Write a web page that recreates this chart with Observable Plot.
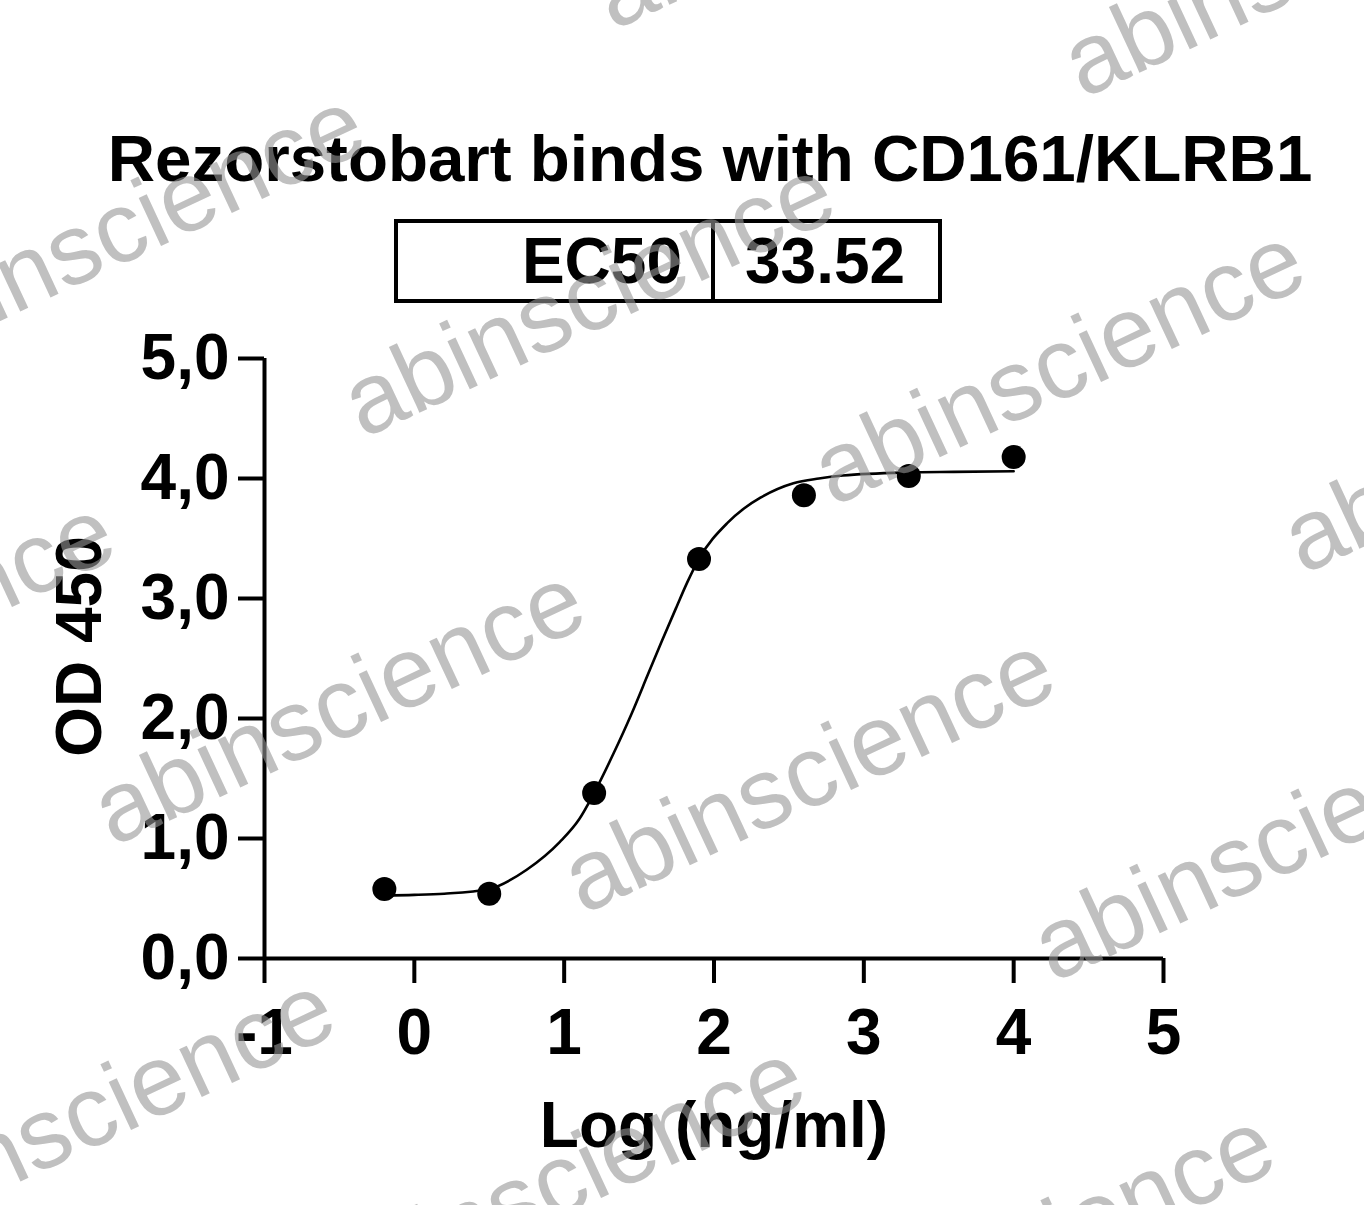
<!DOCTYPE html>
<html>
<head>
<meta charset="utf-8">
<script src="https://cdn.jsdelivr.net/npm/d3@7"></script>
<script src="https://cdn.jsdelivr.net/npm/@observablehq/plot@0.6"></script>
<style>
  body { margin: 0; background: #fff; }
  #wrap { position: relative; width: 1364px; height: 1205px; overflow: hidden; background: #fff;
          font-family: "Liberation Sans", Arial, sans-serif; }
  #header { position: relative; height: 320px; }
  .t { position: absolute; font-weight: bold; line-height: 1; white-space: nowrap; color: #000; }
  #wm { position: absolute; left: 0; top: 0; pointer-events: none; }
</style>
</head>
<body>
<div id="wrap">
  <div id="header">
    <div class="t" id="title" style="left:710px; top:126px; font-size:65.5px; transform:translateX(-50%);"></div>
    <div id="box" style="position:absolute; left:394px; top:219px; width:548px; height:84px; border:4px solid #000; box-sizing:border-box;"></div>
    <div style="position:absolute; left:711px; top:219px; width:4px; height:84px; background:#000;"></div>
    <div class="t" id="k" style="right:682px; top:229px; font-size:64px;"></div>
    <div class="t" id="v" style="left:745px; top:229px; font-size:64px;"></div>
  </div>
  <div id="chart"></div>
  <svg id="wm" width="1364" height="1205"></svg>
</div>
<script>
// ---- text ----
const titleText = "Rezorstobart binds with CD161/KLRB1";
const tableKey = "EC50";
const tableValue = "33.52";
const xLabel = ["Log (ng/ml)"];
const yLabel = ["OD 450"];
const watermarkText = "abinscience";

// ---- ticks ----
const xTicks = [-1, 0, 1, 2, 3, 4, 5];
const xTickLabels = ["-1", "0", "1", "2", "3", "4", "5"];
const yTicks = [0, 1, 2, 3, 4, 5];
const yTickLabels = ["0,0", "1,0", "2,0", "3,0", "4,0", "5,0"];

// ---- measured points ----
const logConc = [-0.2, 0.5, 1.2, 1.9, 2.6, 3.3, 4.0];
const od450 = [0.58, 0.54, 1.38, 3.33, 3.86, 4.02, 4.18];

// ---- fitted curve ----
const curveX = [-0.2, 0.0, 0.2, 0.5, 0.75, 0.97, 1.1, 1.2, 1.33, 1.45, 1.56, 1.65, 1.75, 1.82, 1.9, 2.09, 2.2, 2.31, 2.53, 2.7, 2.86, 3.29, 3.6, 4.0];
const curveY = [0.525, 0.53, 0.54, 0.58, 0.74, 0.97, 1.16, 1.38, 1.71, 2.04, 2.37, 2.64, 2.93, 3.13, 3.33, 3.63, 3.75, 3.84, 3.96, 4.0, 4.025, 4.05, 4.055, 4.06];

// ---- watermark anchors (baseline start of each word) ----
const wmX = [613, 1083, -107, 363, 833, 1303, -357, 113, 583, 1053, -137, 333, 803];
const wmY = [31, 99, 371, 439, 507, 575, 779, 847, 915, 983, 1255, 1323, 1391];

document.getElementById("title").textContent = titleText;
document.getElementById("k").textContent = tableKey;
document.getElementById("v").textContent = tableValue;

const points = logConc.map((x, i) => ({x, y: od450[i]}));
const curve = curveX.map((x, i) => ({x, y: curveY[i]}));

const font = "'Liberation Sans', Arial, sans-serif";

const chart = Plot.plot({
  width: 1364,
  height: 885,
  marginTop: 38,
  marginBottom: 247,
  marginLeft: 264,
  marginRight: 201,
  style: {background: "transparent", fontFamily: font, fontSize: "64px", fontWeight: "bold", overflow: "visible", color: "#000"},
  x: {domain: [-1, 5]},
  y: {domain: [0, 5]},
  marks: [
    Plot.line(curve, {x: "x", y: "y", curve: "monotone-x", stroke: "#000", strokeWidth: 2.6}),
    Plot.dot(points, {x: "x", y: "y", r: 12, fill: "#000", stroke: "none"}),
    Plot.ruleX([-1], {stroke: "#000", strokeWidth: 4}),
    Plot.ruleY([0], {stroke: "#000", strokeWidth: 4}),
    Plot.axisX({ticks: xTicks, tickFormat: d => xTickLabels[xTicks.indexOf(d)], tickSize: 25, tickPadding: 25,
                strokeWidth: 4, label: null, fontSize: 64, fontWeight: "bold"}),
    Plot.axisY({ticks: yTicks, tickFormat: d => yTickLabels[yTicks.indexOf(d)], tickSize: 26, tickPadding: 9,
                strokeWidth: 4, label: null, fontSize: 64, fontWeight: "bold"}),
    Plot.text(yLabel, {frameAnchor: "left", text: d => d, rotate: -90, textAnchor: "middle", lineAnchor: "middle",
                       dx: -184, dy: -12, fontSize: 64, fontWeight: "bold"}),
    Plot.text(xLabel, {frameAnchor: "bottom", text: d => d, dy: 188, fontSize: 64, fontWeight: "bold"})
  ]
});
document.getElementById("chart").appendChild(chart);

// watermarks
const wm = d3.select("#wm");
wmX.forEach((x, i) => {
  const y = wmY[i];
  wm.append("text")
    .attr("x", x).attr("y", y)
    .attr("transform", `rotate(-25 ${x} ${y})`)
    .attr("font-family", font)
    .attr("font-size", 100)
    .attr("fill", "rgb(150,150,150)")
    .attr("fill-opacity", 0.6)
    .text(watermarkText);
});
</script>
</body>
</html>
